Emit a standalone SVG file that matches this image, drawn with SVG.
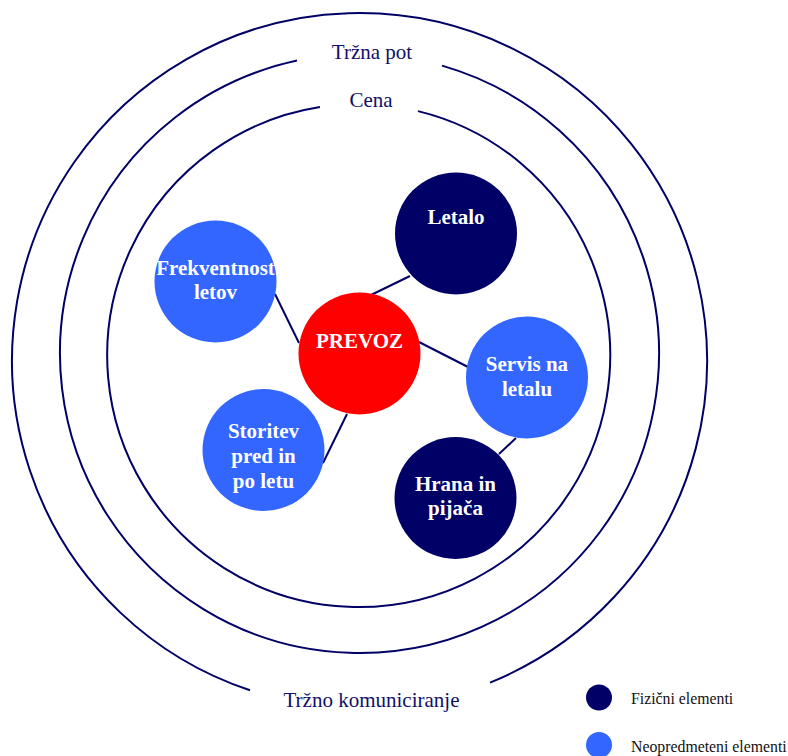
<svg xmlns="http://www.w3.org/2000/svg" width="788" height="756" viewBox="0 0 788 756">
<style>
.ring{fill:none;stroke:#000066;stroke-width:2}
.conn{stroke:#000066;stroke-width:2;fill:none}
.lbl{font-family:"Liberation Serif","Times New Roman",serif;font-size:21px;fill:#10106a;text-anchor:middle}
.nt{font-family:"Liberation Serif","Times New Roman",serif;font-size:21px;font-weight:bold;fill:#ffffff;text-anchor:middle}
.phys{fill:#000066}
.intang{fill:#3366ff}
.core{fill:#ff0000}
.leg{font-family:"Liberation Serif","Times New Roman",serif;font-size:15.8px;fill:#111111}
</style>
<rect width="788" height="756" fill="#ffffff"/>
<g id="rings">
<path class="ring" d="M 490 682.6 A 347.5 347.5 0 1 0 250 690.3"/>
<path class="ring" d="M 297 60.6 A 299.5 299.5 0 1 0 442 65.6"/>
<path class="ring" d="M 320 107 A 251.5 251.5 0 1 0 418 111.1"/>
<text class="lbl" x="372" y="59">Tržna pot</text>
<text class="lbl" x="371" y="107">Cena</text>
<text class="lbl" x="371.5" y="707">Tržno komuniciranje</text>
</g>
<g id="connectors">
<line class="conn" x1="371" y1="295" x2="410" y2="276"/>
<line class="conn" x1="275" y1="294" x2="299" y2="343"/>
<line class="conn" x1="419" y1="342" x2="468" y2="367"/>
<line class="conn" x1="323" y1="463" x2="347" y2="414"/>
<line class="conn" x1="516" y1="438" x2="499" y2="454"/>
</g>
<g id="letalo">
<circle class="phys" cx="456" cy="233.5" r="61"/>
<text class="nt" x="456" y="224">Letalo</text>
</g>
<g id="frekventnost">
<circle class="intang" cx="215.5" cy="281.5" r="61"/>
<text class="nt" x="215.5" y="275">Frekventnost</text>
<text class="nt" x="215.5" y="299">letov</text>
</g>
<g id="prevoz">
<circle class="core" cx="359.5" cy="353.5" r="61"/>
<text class="nt" x="359.5" y="348">PREVOZ</text>
</g>
<g id="servis">
<circle class="intang" cx="527" cy="377.5" r="61"/>
<text class="nt" x="527" y="371">Servis na</text>
<text class="nt" x="527" y="396">letalu</text>
</g>
<g id="storitev">
<circle class="intang" cx="263.5" cy="450" r="61"/>
<text class="nt" x="263.5" y="438">Storitev</text>
<text class="nt" x="263.5" y="463">pred in</text>
<text class="nt" x="263.5" y="488">po letu</text>
</g>
<g id="hrana">
<circle class="phys" cx="455.5" cy="498" r="61"/>
<text class="nt" x="455.5" y="491">Hrana in</text>
<text class="nt" x="455.5" y="515">pijača</text>
</g>
<g id="legend">
<circle class="phys" cx="599" cy="697.5" r="13"/>
<text class="leg" x="631" y="704">Fizični elementi</text>
<circle class="intang" cx="599" cy="745" r="13"/>
<text class="leg" x="631" y="752">Neopredmeteni elementi</text>
</g>
</svg>
